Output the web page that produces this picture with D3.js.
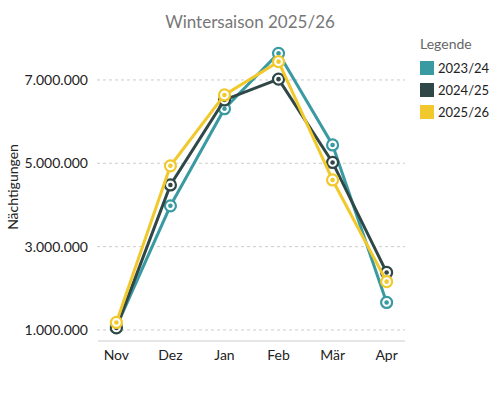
<!DOCTYPE html>
<html>
<head>
<meta charset="utf-8">
<script src="https://cdn.jsdelivr.net/npm/d3@7"></script>
<style>
  body { margin: 0; background: #fff; }
  svg { font-family: Lato, "Open Sans", sans-serif; }
</style>
</head>
<body>
<svg width="501" height="401"></svg>
<script>
var months = ["Nov", "Dez", "Jan", "Feb", "Mär", "Apr"];
var seasons = ["2023/24", "2024/25", "2025/26"];
var colors = ["#3a9aa2", "#2f4847", "#f1c92c"];
var s2324 = [1080000, 3980000, 6310000, 7640000, 5440000, 1660000];
var s2425 = [1050000, 4480000, 6520000, 7020000, 5020000, 2380000];
var s2526 = [1180000, 4940000, 6640000, 7440000, 4600000, 2160000];
var yTicks = [1000000, 3000000, 5000000, 7000000];

var series = [s2324, s2425, s2526];

var svg = d3.select("svg");

var x = d3.scalePoint().domain(months).range([98, 405]).padding(0.34);
var y = d3.scaleLinear().domain([735000, 8000000]).range([341, 38.3]);

var fmt = function(v) { return d3.format(",")(v).replace(/,/g, "."); };

// titel
svg.append("text")
   .attr("x", 250).attr("y", 28)
   .attr("text-anchor", "middle")
   .attr("fill", "#777")
   .style("font-size", "17px")
   .text("Wintersaison 2025/26");

// gitterlinien
svg.append("g").selectAll("line")
   .data(yTicks).enter().append("line")
   .attr("x1", 97).attr("x2", 405)
   .attr("y1", d => y(d)).attr("y2", d => y(d))
   .attr("stroke", "#ccc")
   .attr("stroke-dasharray", "3,3");

svg.append("g").selectAll("text")
   .data(yTicks).enter().append("text")
   .attr("x", 88).attr("y", d => y(d))
   .attr("dy", "0.35em")
   .attr("text-anchor", "end")
   .attr("fill", "#222")
   .style("font-size", "14px")
   .text(fmt);

// x achse
svg.append("line")
   .attr("x1", 98).attr("x2", 405)
   .attr("y1", 341).attr("y2", 341)
   .attr("stroke", "#ccc");

svg.append("g").selectAll("text")
   .data(months).enter().append("text")
   .attr("x", d => x(d)).attr("y", 360)
   .attr("text-anchor", "middle")
   .attr("fill", "#222")
   .style("font-size", "14px")
   .text(d => d);

svg.append("text")
   .attr("transform", "translate(18,187) rotate(-90)")
   .attr("text-anchor", "middle")
   .attr("fill", "#222")
   .style("font-size", "14px")
   .text("Nächtigungen");

var line = d3.line()
   .x((d, i) => x(months[i]))
   .y(d => y(d));

series.forEach(function(s, k) {
    var g = svg.append("g");
    g.append("path")
     .attr("d", line(s))
     .attr("fill", "none")
     .attr("stroke", colors[k])
     .attr("stroke-width", 3);
    g.selectAll(".m").data(s).enter().append("circle")
     .attr("cx", (d, i) => x(months[i])).attr("cy", d => y(d))
     .attr("r", 5.5)
     .attr("fill", "#fff")
     .attr("stroke", colors[k])
     .attr("stroke-width", 2.2);
    g.selectAll(".d").data(s).enter().append("circle")
     .attr("cx", (d, i) => x(months[i])).attr("cy", d => y(d))
     .attr("r", 2.3)
     .attr("fill", colors[k]);
});

// legende
var lg = svg.append("g").attr("transform", "translate(420,0)");
lg.append("text").attr("x", 0).attr("y", 49)
  .attr("fill", "#666").style("font-size", "14px").text("Legende");
seasons.forEach(function(s, k) {
    lg.append("rect").attr("x", 0).attr("y", 61 + k * 22)
      .attr("width", 14).attr("height", 14).attr("fill", colors[k]);
    lg.append("text").attr("x", 18).attr("y", 68 + k * 22)
      .attr("dy", "0.35em").attr("fill", "#222")
      .style("font-size", "13px").text(s);
});
</script>
</body>
</html>
